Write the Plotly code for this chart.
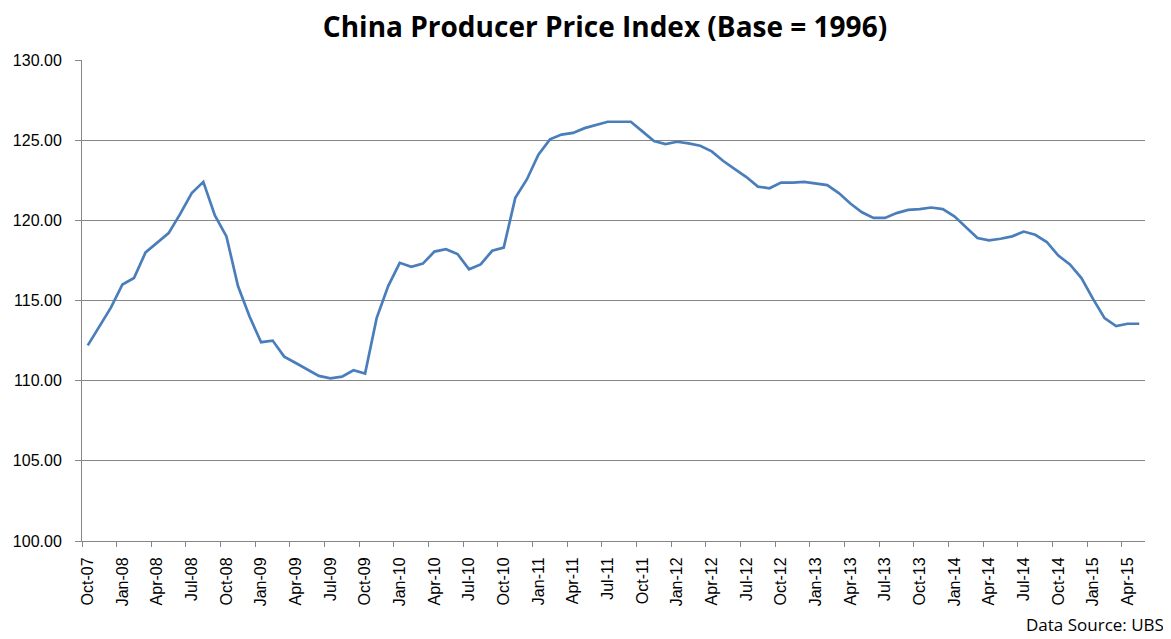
import plotly.graph_objects as go

months = ["Oct-07","Nov-07","Dec-07","Jan-08","Feb-08","Mar-08","Apr-08","May-08","Jun-08","Jul-08","Aug-08","Sep-08",
          "Oct-08","Nov-08","Dec-08","Jan-09","Feb-09","Mar-09","Apr-09","May-09","Jun-09","Jul-09","Aug-09","Sep-09",
          "Oct-09","Nov-09","Dec-09","Jan-10","Feb-10","Mar-10","Apr-10","May-10","Jun-10","Jul-10","Aug-10","Sep-10",
          "Oct-10","Nov-10","Dec-10","Jan-11","Feb-11","Mar-11","Apr-11","May-11","Jun-11","Jul-11","Aug-11","Sep-11",
          "Oct-11","Nov-11","Dec-11","Jan-12","Feb-12","Mar-12","Apr-12","May-12","Jun-12","Jul-12","Aug-12","Sep-12",
          "Oct-12","Nov-12","Dec-12","Jan-13","Feb-13","Mar-13","Apr-13","May-13","Jun-13","Jul-13","Aug-13","Sep-13",
          "Oct-13","Nov-13","Dec-13","Jan-14","Feb-14","Mar-14","Apr-14","May-14","Jun-14","Jul-14","Aug-14","Sep-14",
          "Oct-14","Nov-14","Dec-14","Jan-15","Feb-15","Mar-15","Apr-15","May-15"]

ppi = [112.2, 113.4, 114.55, 116.0, 116.4, 118.0, 118.6, 119.2, 120.4, 121.7, 122.4, 120.3,
       119.0, 115.9, 114.0, 112.4, 112.5, 111.5, 111.1, 110.7, 110.3, 110.15, 110.25, 110.65,
       110.45, 113.9, 115.9, 117.35, 117.1, 117.3, 118.05, 118.2, 117.9, 116.95, 117.25, 118.1,
       118.3, 121.4, 122.55, 124.1, 125.05, 125.35, 125.45, 125.75, 125.95, 126.15, 126.15, 126.15,
       125.55, 124.95, 124.75, 124.9, 124.8, 124.65, 124.3, 123.7, 123.2, 122.7, 122.1, 122.0,
       122.35, 122.35, 122.4, 122.3, 122.2, 121.7, 121.05, 120.5, 120.15, 120.15, 120.45, 120.65,
       120.7, 120.8, 120.7, 120.25, 119.6, 118.9, 118.75, 118.85, 119.0, 119.3, 119.1, 118.65,
       117.8, 117.25, 116.4, 115.1, 113.9, 113.4, 113.55, 113.55]

y_ticks = [100, 105, 110, 115, 120, 125, 130]
title_text = "China Producer Price Index (Base = 1996)"
source_text = "Data Source: UBS"

idx = list(range(len(months)))
label_idx = idx[::3]
label_text = [months[i] for i in label_idx]
boundary_ticks = [i - 0.5 for i in label_idx]

# The page body has an 8px margin, so the figure is sized to fit the window.
W, H = 1163, 631

fig = go.Figure()
fig.add_trace(go.Scatter(x=idx, y=ppi, mode="lines",
                         line=dict(color="#4A7EBB", width=2.7), hoverinfo="skip"))

fig.update_layout(
    width=W, height=H,
    paper_bgcolor="white", plot_bgcolor="white",
    margin=dict(l=74, r=26, t=52, b=98, autoexpand=False),
    showlegend=False,
    title=dict(text="<b>" + title_text + "</b>", x=(605 - 8) / W, xanchor="center",
               y=1 - (27 - 8) / H, yanchor="middle",
               font=dict(family="Open Sans", size=28, color="black")),
    xaxis=dict(range=[-0.5, len(months) - 0.5], tickmode="array",
               tickvals=label_idx, ticktext=label_text, tickangle=-90,
               ticks="", showgrid=False, zeroline=False, ticklabelstandoff=9,
               showline=True, linecolor="#868686", linewidth=1,
               tickfont=dict(family="Liberation Sans", size=16, color="black"),
               minor=dict(tickmode="array", tickvals=boundary_ticks, ticks="outside",
                          ticklen=5, tickcolor="#868686", tickwidth=1, showgrid=False)),
    yaxis=dict(range=[100, 130], tickmode="array", tickvals=y_ticks,
               ticktext=[f"{v:.2f}" for v in y_ticks],
               ticks="outside", ticklen=6, tickcolor="#868686", ticklabelstandoff=10,
               showgrid=True, gridcolor="#868686", gridwidth=1, zeroline=False,
               showline=True, linecolor="#868686", linewidth=1,
               tickfont=dict(family="Liberation Sans", size=16, color="black")),
    annotations=[dict(text=source_text, xref="paper", yref="paper",
                      x=(1166 - 82) / 1063, y=(541.7 - 639) / 481,
                      xanchor="right", yanchor="bottom",
                      showarrow=False,
                      font=dict(family="Open Sans", size=17, color="black"))],
)

fig.write_html("out.html")
